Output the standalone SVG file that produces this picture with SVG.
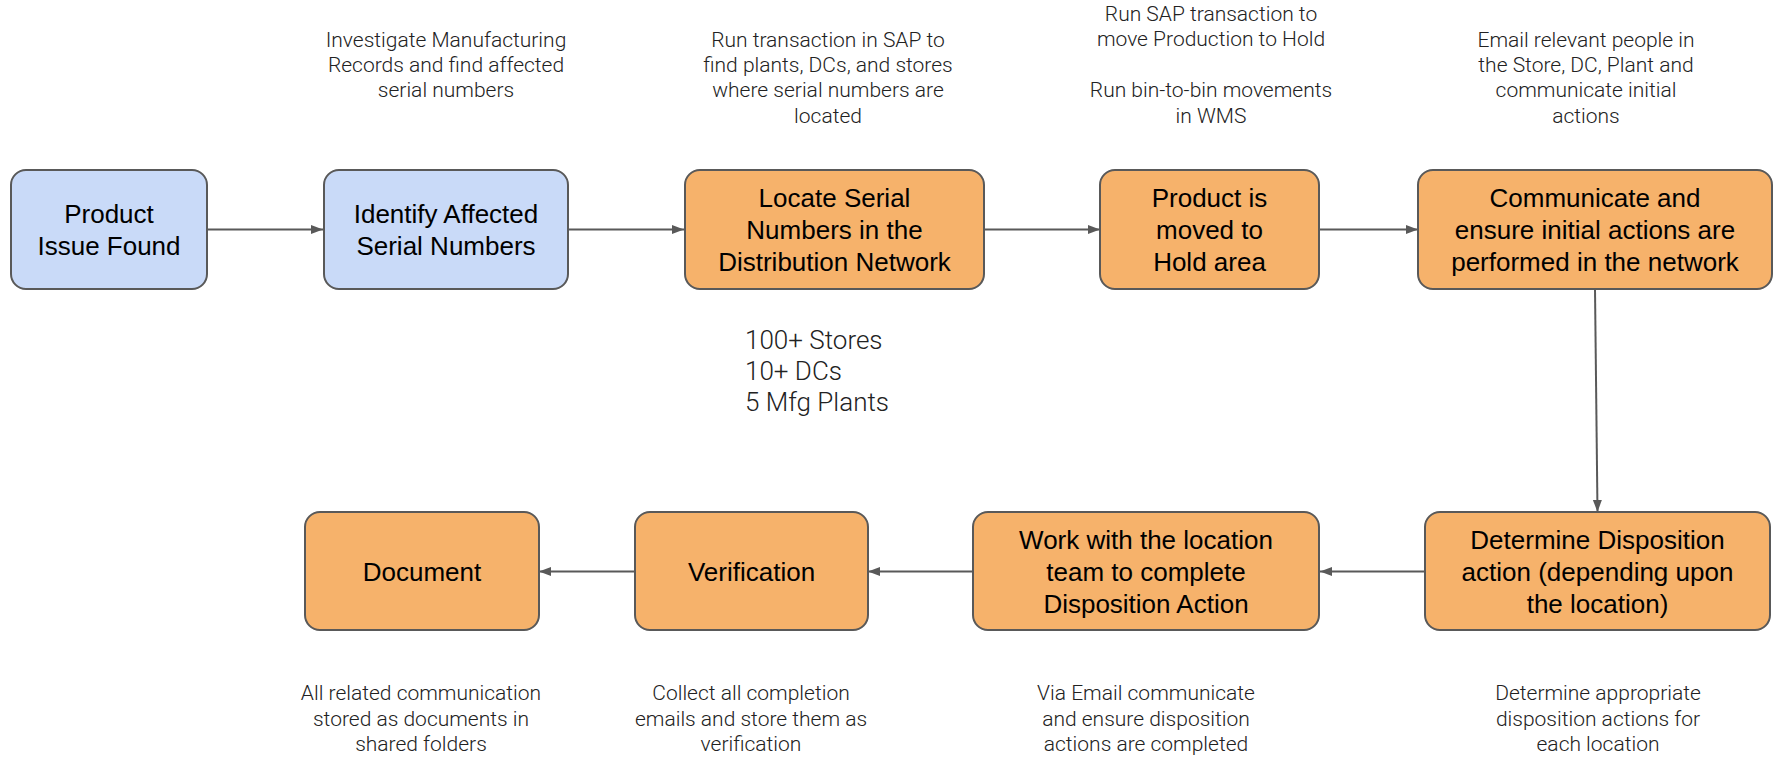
<svg xmlns="http://www.w3.org/2000/svg" width="1777" height="757" viewBox="0 0 1777 757">
<style>
.box{stroke:#595959;stroke-width:2}
.blue{fill:#c9daf8}
.orange{fill:#f6b26b}
.lbl{font-family:"Liberation Sans",Arial,sans-serif;font-size:26px;fill:#000;text-anchor:middle}
.note{font-family:Roboto,"Liberation Sans",sans-serif;font-weight:300;font-size:21px;fill:#222;text-anchor:middle}
.big{font-family:Roboto,"Liberation Sans",sans-serif;font-weight:300;font-size:26px;fill:#222}
.conn{stroke:#595959;stroke-width:2;fill:none;marker-end:url(#arr)}
</style>
<defs>
<marker id="arr" markerUnits="userSpaceOnUse" markerWidth="13" markerHeight="10" refX="12" refY="5" orient="auto">
<path d="M0,0.5 L12,5 L0,9.5 Z" fill="#595959"/>
</marker>
</defs>
<rect width="1777" height="757" fill="#fff"/>
<g id="connectors">
<line class="conn" x1="207" y1="229.5" x2="323" y2="229.5"/>
<line class="conn" x1="568" y1="229.5" x2="684" y2="229.5"/>
<line class="conn" x1="984" y1="229.5" x2="1100" y2="229.5"/>
<line class="conn" x1="1319" y1="229.5" x2="1418" y2="229.5"/>
<line class="conn" x1="1595" y1="289" x2="1597.5" y2="512"/>
<line class="conn" x1="1425" y1="571.5" x2="1320" y2="571.5"/>
<line class="conn" x1="973" y1="571.5" x2="868" y2="571.5"/>
<line class="conn" x1="635" y1="571.5" x2="539" y2="571.5"/>
</g>
<g id="n1">
<rect class="box blue" x="11" y="170" width="196" height="119" rx="15"/>
<text class="lbl" x="109" y="223">Product</text>
<text class="lbl" x="109" y="255">Issue Found</text>
</g>
<g id="n2">
<rect class="box blue" x="324" y="170" width="244" height="119" rx="15"/>
<text class="lbl" x="446" y="223">Identify Affected</text>
<text class="lbl" x="446" y="255">Serial Numbers</text>
<text class="note" x="446" y="47">Investigate Manufacturing</text>
<text class="note" x="446" y="72">Records and find affected</text>
<text class="note" x="446" y="97">serial numbers</text>
</g>
<g id="n3">
<rect class="box orange" x="685" y="170" width="299" height="119" rx="15"/>
<text class="lbl" x="834.5" y="207">Locate Serial</text>
<text class="lbl" x="834.5" y="239">Numbers in the</text>
<text class="lbl" x="834.5" y="271">Distribution Network</text>
<text class="note" x="828" y="47">Run transaction in SAP to</text>
<text class="note" x="828" y="72">find plants, DCs, and stores</text>
<text class="note" x="828" y="97">where serial numbers are</text>
<text class="note" x="828" y="123">located</text>
</g>
<g id="stats">
<text class="big" x="745" y="349">100+ Stores</text>
<text class="big" x="745" y="380">10+ DCs</text>
<text class="big" x="745" y="411">5 Mfg Plants</text>
</g>
<g id="n4">
<rect class="box orange" x="1100" y="170" width="219" height="119" rx="15"/>
<text class="lbl" x="1209.5" y="207">Product is</text>
<text class="lbl" x="1209.5" y="239">moved to</text>
<text class="lbl" x="1209.5" y="271">Hold area</text>
<text class="note" x="1211" y="21">Run SAP transaction to</text>
<text class="note" x="1211" y="46">move Production to Hold</text>
<text class="note" x="1211" y="97">Run bin-to-bin movements</text>
<text class="note" x="1211" y="123">in WMS</text>
</g>
<g id="n5">
<rect class="box orange" x="1418" y="170" width="354" height="119" rx="15"/>
<text class="lbl" x="1595" y="207">Communicate and</text>
<text class="lbl" x="1595" y="239">ensure initial actions are</text>
<text class="lbl" x="1595" y="271">performed in the network</text>
<text class="note" x="1586" y="47">Email relevant people in</text>
<text class="note" x="1586" y="72">the Store, DC, Plant and</text>
<text class="note" x="1586" y="97">communicate initial</text>
<text class="note" x="1586" y="123">actions</text>
</g>
<g id="n6">
<rect class="box orange" x="1425" y="512" width="345" height="118" rx="15"/>
<text class="lbl" x="1597.5" y="549">Determine Disposition</text>
<text class="lbl" x="1597.5" y="581">action (depending upon</text>
<text class="lbl" x="1597.5" y="613">the location)</text>
<text class="note" x="1598" y="700">Determine appropriate</text>
<text class="note" x="1598" y="726">disposition actions for</text>
<text class="note" x="1598" y="751">each location</text>
</g>
<g id="n7">
<rect class="box orange" x="973" y="512" width="346" height="118" rx="15"/>
<text class="lbl" x="1146" y="549">Work with the location</text>
<text class="lbl" x="1146" y="581">team to complete</text>
<text class="lbl" x="1146" y="613">Disposition Action</text>
<text class="note" x="1146" y="700">Via Email communicate</text>
<text class="note" x="1146" y="726">and ensure disposition</text>
<text class="note" x="1146" y="751">actions are completed</text>
</g>
<g id="n8">
<rect class="box orange" x="635" y="512" width="233" height="118" rx="15"/>
<text class="lbl" x="751.5" y="581">Verification</text>
<text class="note" x="751" y="700">Collect all completion</text>
<text class="note" x="751" y="726">emails and store them as</text>
<text class="note" x="751" y="751">verification</text>
</g>
<g id="n9">
<rect class="box orange" x="305" y="512" width="234" height="118" rx="15"/>
<text class="lbl" x="422" y="581">Document</text>
<text class="note" x="421" y="700">All related communication</text>
<text class="note" x="421" y="726">stored as documents in</text>
<text class="note" x="421" y="751">shared folders</text>
</g>
</svg>
